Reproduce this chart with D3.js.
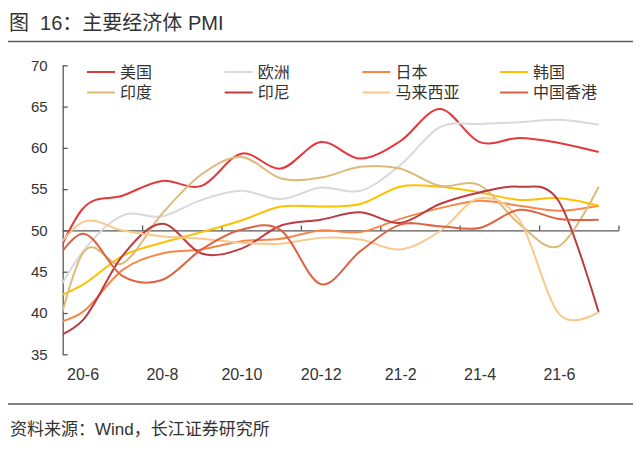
<!DOCTYPE html>
<html>
<head>
<meta charset="utf-8">
<script src="https://cdn.jsdelivr.net/npm/d3@7"></script>
<style>
  body { margin: 0; background: #fff; }
  svg text { font-family: "Liberation Sans", Arial, "Noto Sans CJK SC", sans-serif; fill: #333; }
  .axis path, .axis line { stroke: #595959; stroke-width: 1.3; }
  .axis text { font-size: 15px; fill: #333; }
</style>
</head>
<body>
<div id="chart"></div>
<script>
/* ---------- data (20-5 is only there so the smoothed lines enter from the left edge) ---------- */
const MONTHS = ["20-5", "20-6", "20-7", "20-8", "20-9", "20-10", "20-11", "20-12",
  "21-1", "21-2", "21-3", "21-4", "21-5", "21-6", "21-7"];

const US        = [43.1, 52.6, 54.2, 56.0, 55.4, 59.3, 57.5, 60.7, 58.7, 60.8, 64.7, 60.7, 61.2, 60.6, 59.5];
const EUROZONE  = [39.4, 47.4, 51.8, 51.7, 53.7, 54.8, 53.8, 55.2, 54.8, 57.9, 62.5, 62.9, 63.1, 63.4, 62.8];
const JAPAN     = [38.4, 40.1, 45.2, 47.2, 47.7, 48.7, 49.0, 50.0, 49.8, 51.4, 52.7, 53.6, 53.0, 52.4, 53.0];
const KOREA     = [41.3, 43.4, 46.9, 48.5, 49.8, 51.2, 52.9, 52.9, 53.2, 55.3, 55.3, 54.6, 53.7, 53.9, 53.0];
const INDIA     = [30.8, 47.2, 46.0, 52.0, 56.8, 58.9, 56.3, 56.4, 57.7, 57.5, 55.4, 55.5, 50.8, 48.1, 55.3];
const INDONESIA = [36.5, 39.1, 46.9, 50.8, 47.2, 47.8, 50.6, 51.3, 52.2, 50.9, 53.2, 54.6, 55.3, 53.5, 40.1];
const MALAYSIA  = [45.6, 51.0, 50.0, 49.3, 49.0, 48.5, 48.4, 49.1, 48.9, 47.7, 49.9, 53.9, 51.3, 39.9, 40.1];
const HONGKONG  = [43.9, 49.6, 44.5, 44.0, 47.7, 50.1, 50.0, 43.5, 47.5, 50.7, 50.5, 50.3, 52.5, 51.4, 51.3];

// legend order = array order (two rows of four)
const SERIES = [
  { name: "美国", values: US, color: "#E5383D" },
  { name: "欧洲", values: EUROZONE, color: "#D9D9D9" },
  { name: "日本", values: JAPAN, color: "#F6874A" },
  { name: "韩国", values: KOREA, color: "#FFC000" },
  { name: "印度", values: INDIA, color: "#DDBA7A" },
  { name: "印尼", values: INDONESIA, color: "#BC3A40" },
  { name: "马来西亚", values: MALAYSIA, color: "#FAC78C" },
  { name: "中国香港", values: HONGKONG, color: "#DE6242" },
];

const Y_TICKS = [35, 40, 45, 50, 55, 60, 65, 70];
const X_LABELS = ["20-6", "20-8", "20-10", "20-12", "21-2", "21-4", "21-6"];

const W = 640, H = 453;
const PLOT = { left: 62.7, right: 618.5, top: 65.3, bottom: 354.3 };

const svg = d3.select("#chart").append("svg").attr("width", W).attr("height", H);

// month index -> x ; 20-5 is index -1, so it sits outside the plot and gets clipped
const x = d3.scaleLinear().domain([-0.5, 13.5]).range([PLOT.left, PLOT.right]);
const y = d3.scaleLinear().domain([35, 70]).range([PLOT.bottom, PLOT.top]);

/* ---------- title + rules ---------- */
svg.append("text").attr("x", 9).attr("y", 30).style("font-size", "20px")
  .attr("xml:space", "preserve").text("图  16：主要经济体 PMI");
svg.append("line").attr("x1", 8).attr("x2", 633).attr("y1", 41.5).attr("y2", 41.5)
  .attr("stroke", "#595959").attr("stroke-width", 1.5);
svg.append("line").attr("x1", 8).attr("x2", 633).attr("y1", 404).attr("y2", 404)
  .attr("stroke", "#595959").attr("stroke-width", 1.5);
svg.append("text").attr("x", 10).attr("y", 435).style("font-size", "17px")
  .text("资料来源：Wind，长江证券研究所");

/* ---------- axes ---------- */
svg.append("g")
  .attr("class", "axis")
  .attr("transform", `translate(${PLOT.left},0)`)
  .call(d3.axisLeft(y).tickValues(Y_TICKS).tickSize(-5).tickSizeOuter(0).tickPadding(15));

// horizontal axis crosses at 50, ticks every two months pointing up
svg.append("g")
  .attr("class", "axis")
  .attr("transform", `translate(0,${y(50)})`)
  .call(d3.axisBottom(x).tickValues(d3.range(1.5, 14, 2)).tickSize(-5).tickSizeOuter(0).tickFormat(""));

// month labels along the bottom
const labelAxis = svg.append("g")
  .attr("class", "axis")
  .attr("transform", `translate(0,${PLOT.bottom + 10})`)
  .call(d3.axisBottom(x).tickValues(d3.range(0, 13, 2)).tickSize(0).tickPadding(4)
    .tickFormat((d, i) => X_LABELS[i]));
labelAxis.select(".domain").remove();
labelAxis.selectAll("text").style("font-size", "16px");

/* ---------- lines ---------- */
svg.append("clipPath").attr("id", "plot-clip")
  .append("rect")
  .attr("x", PLOT.left).attr("y", PLOT.top - 10)
  .attr("width", PLOT.right - PLOT.left).attr("height", PLOT.bottom - PLOT.top + 10);

const line = d3.line()
  .x((d, i) => x(i - 1))
  .y((d) => y(d))
  .curve(d3.curveCardinal.tension(0));

svg.append("g")
  .attr("clip-path", "url(#plot-clip)")
  .selectAll("path")
  .data(SERIES)
  .join("path")
  .attr("d", (s) => line(s.values))
  .attr("fill", "none")
  .attr("stroke", (s) => s.color)
  .attr("stroke-width", 2);

/* ---------- legend ---------- */
const legend = svg.append("g")
  .selectAll("g")
  .data(SERIES)
  .join("g")
  .attr("transform", (s, i) => `translate(${87 + (i % 4) * 137.7},${72 + Math.floor(i / 4) * 20.5})`);

legend.append("line")
  .attr("x1", 0).attr("x2", 28)
  .attr("stroke", (s) => s.color)
  .attr("stroke-width", 2);

legend.append("text")
  .attr("x", 33)
  .attr("dy", "0.36em")
  .style("font-size", "16px")
  .text((s) => s.name);
</script>
</body>
</html>
